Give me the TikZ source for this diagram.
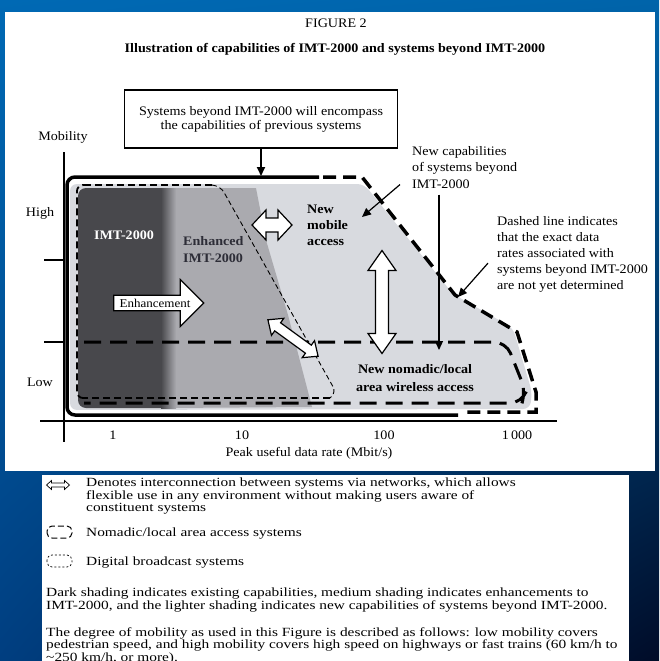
\documentclass[tikz,border=0pt]{standalone}
\usepackage{fontspec}
\setmainfont[FakeStretch=1.085]{Liberation Serif}
\newfontfamily\legfont[FakeStretch=1.23]{Liberation Serif}
\usetikzlibrary{shapes.arrows,arrows.meta,shadings}
\definecolor{bgtl}{RGB}{0,105,180}
\definecolor{bgtr}{RGB}{0,100,170}
\definecolor{bgbl}{RGB}{0,62,128}
\definecolor{bgbr}{RGB}{0,12,40}
\definecolor{darkshade}{RGB}{72,72,76}
\definecolor{midshade}{RGB}{170,170,175}
\definecolor{lightshade}{RGB}{216,218,223}
\definecolor{enhtext}{RGB}{45,45,55}

\begin{document}
\begin{tikzpicture}[x=1pt,y=-1pt,
  lbl/.style={inner sep=0pt,font=\fontsize{13}{16}\selectfont},
  bold/.style={inner sep=0pt,font=\fontsize{13}{17}\selectfont\bfseries},
  leg/.style={inner sep=0pt,font=\legfont\fontsize{12.5}{12.5}\selectfont,align=left,anchor=north west},
  pointer/.style={-{Triangle[length=9pt,width=8pt]},line width=1.2pt},
  pics/twoway/.style n args={4}{code={
    \draw[fill=white] (-#1,0) -- (-#1+#2,#3) -- (-#1+#2,#4) -- (#1-#2,#4) -- (#1-#2,#3) -- (#1,0)
      -- (#1-#2,-#3) -- (#1-#2,-#4) -- (-#1+#2,-#4) -- (-#1+#2,-#3) -- cycle;}},
]
\useasboundingbox (0,0) rectangle (659,661);
\shade[upper left=bgtl,upper right=bgtr,lower left=bgbl,lower right=bgbr] (0,0) rectangle (659,661);
\fill[white] (5,12) rectangle (655,471);
\fill[white] (42,475) rectangle (629,661);

% titles
\node[lbl] (fig) at (336,23) {FIGURE 2};
\node[bold] (title) at (335,49) {Illustration of capabilities of IMT-2000 and systems beyond IMT-2000};

% shaded capabilities
\fill[lightshade,rounded corners=7] (70,184) -- (364,184) -- (453,294) -- (513,328) -- (532,392) -- (530,409) -- (70,410) -- cycle;
\fill[midshade] (166,188) -- (256,188) -- (266,240) -- (288,315) -- (312,407) -- (166,408) -- cycle;
\fill[darkshade] (162,188) [rounded corners=8]-- (78,188) -- (78,408) [sharp corners]-- (162,408) -- cycle;
\shade[left color=darkshade,right color=midshade] (161,188) rectangle (176,408);

% nomadic / local area
\draw[line width=3pt,dash pattern=on 17pt off 9pt,rounded corners=12] (84,342) -- (506,342) -- (526,392) -- (522,403) -- (84,403);
% digital broadcast
\draw[line width=2.2pt,dash pattern=on 7pt off 4pt] (84,185) -- (212,185);
\draw[line width=0.9pt,dash pattern=on 5pt off 3pt,rounded corners=6] (212,185) -- (221,187) -- (336,392) -- (330,398);
\draw[line width=2.2pt,dash pattern=on 7pt off 4pt] (330,398) -- (84,398);
\draw[line width=1.8pt,dash pattern=on 7pt off 4pt,rounded corners=6] (84,398) -- (77,398) -- (77,185) -- (84,185);

% outer limit
\draw[line width=3.5pt,rounded corners=8] (319,177) -- (67,177) -- (67,415) -- (458,415);
\draw[line width=3.5pt,dash pattern=on 13pt off 7pt] (323,177) -- (362,177) -- (455,295) -- (517,332) -- (536,392) -- (536,412) -- (466,412);

% axes
\node[lbl] (mob) at (63,137) {Mobility};
\draw[line width=2pt] (64,152) -- (64,442);
\draw[line width=2pt] (40,421) -- (557,421);
\draw[line width=2pt] (44,260) -- (64,260);
\draw[line width=2pt] (44,342) -- (64,342);
\node[lbl] (high) at (40,213) {High};
\node[lbl] (low) at (40,382) {Low};
\node[lbl] (r1) at (113,435) {1};
\node[lbl] (r10) at (242,435) {10};
\node[lbl] (r100) at (384,435) {100};
\node[lbl] (r1000) at (517,435) {1\,000};
\node[lbl] (rate) at (309,453) {Peak useful data rate (Mbit/s)};

% region labels
\node[bold,text=white] (imt) at (124,235) {IMT-2000};
\node[bold,text=enhtext,align=left,anchor=north west] (enh) at (183,236) {Enhanced\\IMT-2000};
\node[bold,align=left,anchor=north west,font=\fontsize{13}{16}\selectfont\bfseries] (mobacc) at (307,205) {New\\mobile\\access};
\node[bold,align=center,font=\fontsize{13}{18}\selectfont\bfseries] (nomad) at (415,378) {New nomadic/local\\area wireless access};

% white arrows
\node[single arrow,draw,fill=white,line width=1.2pt,minimum height=90pt,minimum width=47pt,single arrow head extend=12pt,inner sep=1pt,font=\fontsize{12}{12}\selectfont] (enhance) at (155,303) {Enhancement};
\pic[line width=1.2pt] at (272,225) {twoway={20}{14}{15}{7}};
\pic[line width=1.2pt,rotate=90] at (382,302) {twoway={51.5}{20}{14}{6.5}};
\pic[line width=1.2pt,rotate=-36] at (293,338) {twoway={31}{12}{10.5}{5}};

% callouts
\node[draw,line width=1.2pt,minimum width=273pt,minimum height=58pt,align=center,lbl,font=\fontsize{13}{14}\selectfont] (enc) at (261,119) {Systems beyond IMT-2000 will encompass\\the capabilities of previous systems};
\coordinate (topline) at (261,176);
\draw[pointer,line width=1.8pt] (enc.south) -- (topline);
\node[lbl,align=left,anchor=north west,font=\fontsize{13}{16.5}\selectfont] (newcap) at (412,146) {New capabilities\\of systems beyond\\IMT-2000};
\coordinate (mobtip) at (362,217);
\coordinate (nomtip) at (439,350);
\draw[pointer] ([xshift=-12pt,yshift=4pt]newcap.south west) -- (mobtip);
\draw[pointer] ([xshift=27pt,yshift=-6pt]newcap.south west) -- (nomtip);
\node[lbl,align=left,anchor=north west] (dash) at (497,216) {Dashed line indicates\\that the exact data\\rates associated with\\systems beyond IMT-2000\\are not yet determined};
\coordinate (kink) at (458,297);
\draw[pointer] ([xshift=-9pt,yshift=-9pt]dash.west) -- (kink);

% legend
\pic[line width=0.7pt] at (58,485) {twoway={11.5}{5}{4.5}{2}};
\node[leg] (legnet) at (86,478) {Denotes interconnection between systems via networks, which allows\\flexible use in any environment without making users aware of\\constituent systems};
\draw[line width=1pt,dash pattern=on 6pt off 3pt,rounded corners=5] (47,526) rectangle (72,538);
\node[leg,anchor=west] (legnom) at (86,534) {Nomadic/local area access systems};
\draw[line width=0.7pt,dash pattern=on 2pt off 2pt,rounded corners=5] (47,555) rectangle (72,567);
\node[leg,anchor=west] (legdig) at (86,563) {Digital broadcast systems};
\node[leg] (legshade) at (46,588) {Dark shading indicates existing capabilities, medium shading indicates enhancements to\\IMT-2000, and the lighter shading indicates new capabilities of systems beyond IMT-2000.};
\node[leg] (legmob) at (46,627) {The degree of mobility as used in this Figure is described as follows: low mobility covers\\pedestrian speed, and high mobility covers high speed on highways or fast trains (60 km/h to\\\textasciitilde250 km/h, or more).};
\end{tikzpicture}
\end{document}
